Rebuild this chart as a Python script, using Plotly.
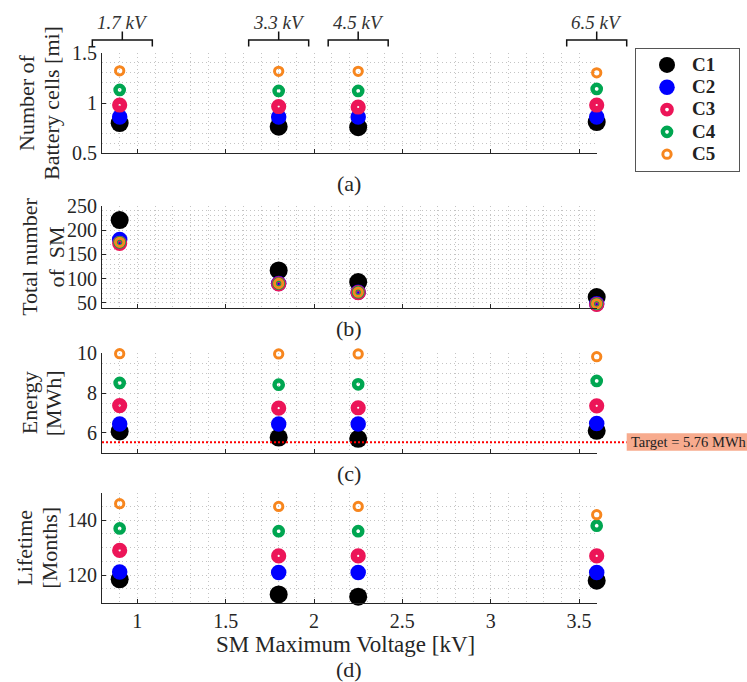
import plotly.graph_objects as go

# ---------------- data ----------------
VOLTAGE = [0.9, 1.8, 2.25, 3.6]          # SM maximum voltage [kV]
CLASSES = ["C1", "C2", "C3", "C4", "C5"]

CELLS_C1 = [0.80, 0.765, 0.76, 0.81]
CELLS_C2 = [0.86, 0.86, 0.86, 0.86]
CELLS_C3 = [0.98, 0.965, 0.96, 0.98]
CELLS_C4 = [1.13, 1.12, 1.12, 1.14]
CELLS_C5 = [1.32, 1.315, 1.315, 1.30]

SM_C1 = [221, 117, 93, 62]
SM_C2 = [181, 90, 72, 48]
SM_C3 = [173, 89, 71, 47]
SM_C4 = [175, 90, 72, 48]
SM_C5 = [175, 90, 72, 48]

ENERGY_C1 = [6.07, 5.76, 5.70, 6.10]
ENERGY_C2 = [6.44, 6.44, 6.44, 6.47]
ENERGY_C3 = [7.37, 7.24, 7.26, 7.36]
ENERGY_C4 = [8.51, 8.42, 8.44, 8.61]
ENERGY_C5 = [9.98, 9.97, 9.97, 9.83]

LIFE_C1 = [118.5, 113, 112.2, 118]
LIFE_C2 = [121.2, 121, 121, 121]
LIFE_C3 = [129, 127, 127, 127]
LIFE_C4 = [137, 136, 136, 138]
LIFE_C5 = [146, 145, 145, 142]

TARGET_LINE = 5.52
TARGET_LABEL = "Target = 5.76 MWh"

DEVICE_LABELS = ["1.7 kV", "3.3 kV", "4.5 kV", "6.5 kV"]
DEVICE_X = [0.915, 1.8, 2.25, 3.6]

PANEL_DATA = [
    [CELLS_C1, CELLS_C2, CELLS_C3, CELLS_C4, CELLS_C5],
    [SM_C1, SM_C2, SM_C3, SM_C4, SM_C5],
    [ENERGY_C1, ENERGY_C2, ENERGY_C3, ENERGY_C4, ENERGY_C5],
    [LIFE_C1, LIFE_C2, LIFE_C3, LIFE_C4, LIFE_C5],
]
PANEL_TITLES = [("Number of", "Battery cells [mi]"),
                ("Total number", "of  SM"),
                ("Energy", "[MWh]"),
                ("Lifetime", "[Months]")]
PANEL_LETTERS = ["(a)", "(b)", "(c)", "(d)"]

# ---------------- styling ----------------
W, H = 747, 682
FONT = "Liberation Serif, Times New Roman, serif"
AX_COL = "#262626"
GRID_COL = "#c4c4c4"

def py(p):
    return 1 - p / H

def px(p):
    return p / W

X_RANGE = [0.8, 3.6]
X_DOM = [px(102), px(596.7)]
# pixel top/bottom of each panel
PANEL_PIX = [(52.7, 153.3), (206.0, 307.7), (353.3, 452.7), (492.7, 602.7)]
Y_RANGES = [[0.5, 1.5], [40, 250], [5, 10], [110, 150]]
Y_TICKS = [[0.5, 1, 1.5], [50, 100, 150, 200, 250], [6, 8, 10], [120, 140]]
Y_TICKTEXT = [["0.5", "1", "1.5"], ["50", "100", "150", "200", "250"],
              ["6", "8", "10"], ["120", "140"]]
Y_MINOR = [0.1, 10, 0.5, 5]
TITLE_X = [(27, 52), (30, 56.7), (29.3, 53.3), (25, 50)]
LETTER_Y = [183, 328, 473, 669.5]

STYLES = {
    "C1": dict(symbol="circle", size=18, color="#000000", line=dict(width=0)),
    "C2": dict(symbol="circle", size=15.5, color="#0000ff", line=dict(width=0)),
    "C3": dict(symbol="circle-open", size=8.7, color="#ec1558", line=dict(width=6.5, color="#ec1558")),
    "C4": dict(symbol="circle-open", size=8.2, color="#00a651", line=dict(width=4.5, color="#00a651")),
    "C5": dict(symbol="circle-open", size=8.3, color="#f7861e", line=dict(width=3, color="#f7861e")),
}

def xdata_to_paper(x):
    return X_DOM[0] + (x - X_RANGE[0]) / (X_RANGE[1] - X_RANGE[0]) * (X_DOM[1] - X_DOM[0])

fig = go.Figure()

for p in range(4):
    sfx = "" if p == 0 else str(p + 1)
    for k, cname in enumerate(CLASSES):
        fig.add_trace(go.Scatter(
            x=VOLTAGE, y=PANEL_DATA[p][k],
            xaxis="x" + sfx, yaxis="y" + sfx,
            mode="markers",
            name='<span style="font-size:19px"><b>' + cname + "</b></span>" + "&nbsp;" * 5,
            legendgroup=cname, showlegend=(p == 0),
            marker=STYLES[cname], cliponaxis=False, hoverinfo="x+y",
        ))

    top, bot = PANEL_PIX[p]
    xa = dict(
        domain=X_DOM, range=X_RANGE, anchor="y" + sfx,
        showline=True, linecolor=AX_COL, linewidth=1,
        ticks="inside", ticklen=4, tickcolor=AX_COL,
        tickvals=[1, 1.5, 2, 2.5, 3, 3.5],
        ticktext=["1", "1.5", "2", "2.5", "3", "3.5"],
        showticklabels=(p == 3),
        tickfont=dict(family=FONT, size=20, color=AX_COL),
        showgrid=True, gridcolor=GRID_COL, griddash="1px,3px", gridwidth=1,
        minor=dict(dtick=0.1, tick0=0.8, showgrid=True, gridcolor=GRID_COL,
                   griddash="1px,3px", gridwidth=1, ticks=""),
        zeroline=False, fixedrange=True,
    )
    ya = dict(
        domain=[py(bot), py(top)], range=Y_RANGES[p], anchor="x" + sfx,
        showline=True, linecolor=AX_COL, linewidth=1,
        ticks="inside", ticklen=4, tickcolor=AX_COL,
        tickvals=Y_TICKS[p], ticktext=Y_TICKTEXT[p],
        tickfont=dict(family=FONT, size=20, color=AX_COL),
        showgrid=True, gridcolor=GRID_COL, griddash="1px,3px", gridwidth=1,
        minor=dict(dtick=Y_MINOR[p], tick0=Y_RANGES[p][0], showgrid=True, gridcolor=GRID_COL,
                   griddash="1px,3px", gridwidth=1, ticks=""),
        zeroline=False, fixedrange=True,
    )
    fig.update_layout(**{"xaxis" + sfx: xa, "yaxis" + sfx: ya})

    # y titles (two lines)
    yc = py((top + bot) / 2)
    for line_txt, xc in zip(PANEL_TITLES[p], TITLE_X[p]):
        fig.add_annotation(x=px(xc), y=yc, xref="paper", yref="paper",
                           text=line_txt, textangle=-90, showarrow=False,
                           xanchor="center", yanchor="middle",
                           font=dict(family=FONT, size=22, color=AX_COL))
    # panel letter
    fig.add_annotation(x=px(349), y=py(LETTER_Y[p]), xref="paper", yref="paper",
                       text=PANEL_LETTERS[p], showarrow=False,
                       xanchor="center", yanchor="middle", borderpad=0,
                       font=dict(family=FONT, size=22, color=AX_COL))

# x axis title
fig.add_annotation(x=px(345), y=py(644.5), xref="paper", yref="paper",
                   text="SM Maximum Voltage [kV]", showarrow=False,
                   xanchor="center", yanchor="middle", borderpad=0,
                   font=dict(family=FONT, size=23, color=AX_COL))

# device brackets on top
for lab, xc in zip(DEVICE_LABELS, DEVICE_X):
    xp = xdata_to_paper(xc)
    x0, x1 = xp - 30 / W, xp + 30 / W
    yl, yh, yt = py(40), py(46.5), py(31.5)
    path = (f"M {x0},{yh} L {x0},{yl} L {x1},{yl} L {x1},{yh} "
            f"M {xp},{yl} L {xp},{yt}")
    fig.add_shape(type="path", path=path, xref="paper", yref="paper",
                  line=dict(color="#111111", width=1.5))
    fig.add_annotation(x=xp, y=py(22.5), xref="paper", yref="paper",
                       text="<i>" + lab + "</i>", showarrow=False,
                       xanchor="center", yanchor="middle",
                       font=dict(family=FONT, size=19, color="#333333"))

# target line and label in panel (c)
fig.add_shape(type="line", xref="paper", yref="y3",
              x0=X_DOM[0], x1=px(626.7), y0=TARGET_LINE, y1=TARGET_LINE,
              line=dict(color="#ff0000", width=2, dash="2px,2px"))
fig.add_shape(type="rect", xref="paper", yref="paper",
              x0=px(626.7), x1=px(760), y0=py(450.7), y1=py(433.3),
              fillcolor="#f7ab8e", line=dict(width=0), layer="above")
fig.add_annotation(x=px(628.5), y=py(442), xref="paper", yref="paper",
                   text=TARGET_LABEL, showarrow=False,
                   xanchor="left", yanchor="middle",
                   font=dict(family=FONT, size=14.5, color="#222222"))

fig.update_layout(
    width=W, height=H,
    margin=dict(l=0, r=0, t=0, b=0, autoexpand=False),
    paper_bgcolor="white", plot_bgcolor="white",
    showlegend=True,
    legend=dict(
        x=px(635), y=py(109.8), xanchor="left", yanchor="middle",
        bordercolor="#555555", borderwidth=1, bgcolor="white",
        font=dict(family=FONT, size=14.85, color="#222222"),
        indentation=6, itemwidth=40, itemsizing="trace", tracegroupgap=0,
    ),
)

fig.write_html("out.html")
